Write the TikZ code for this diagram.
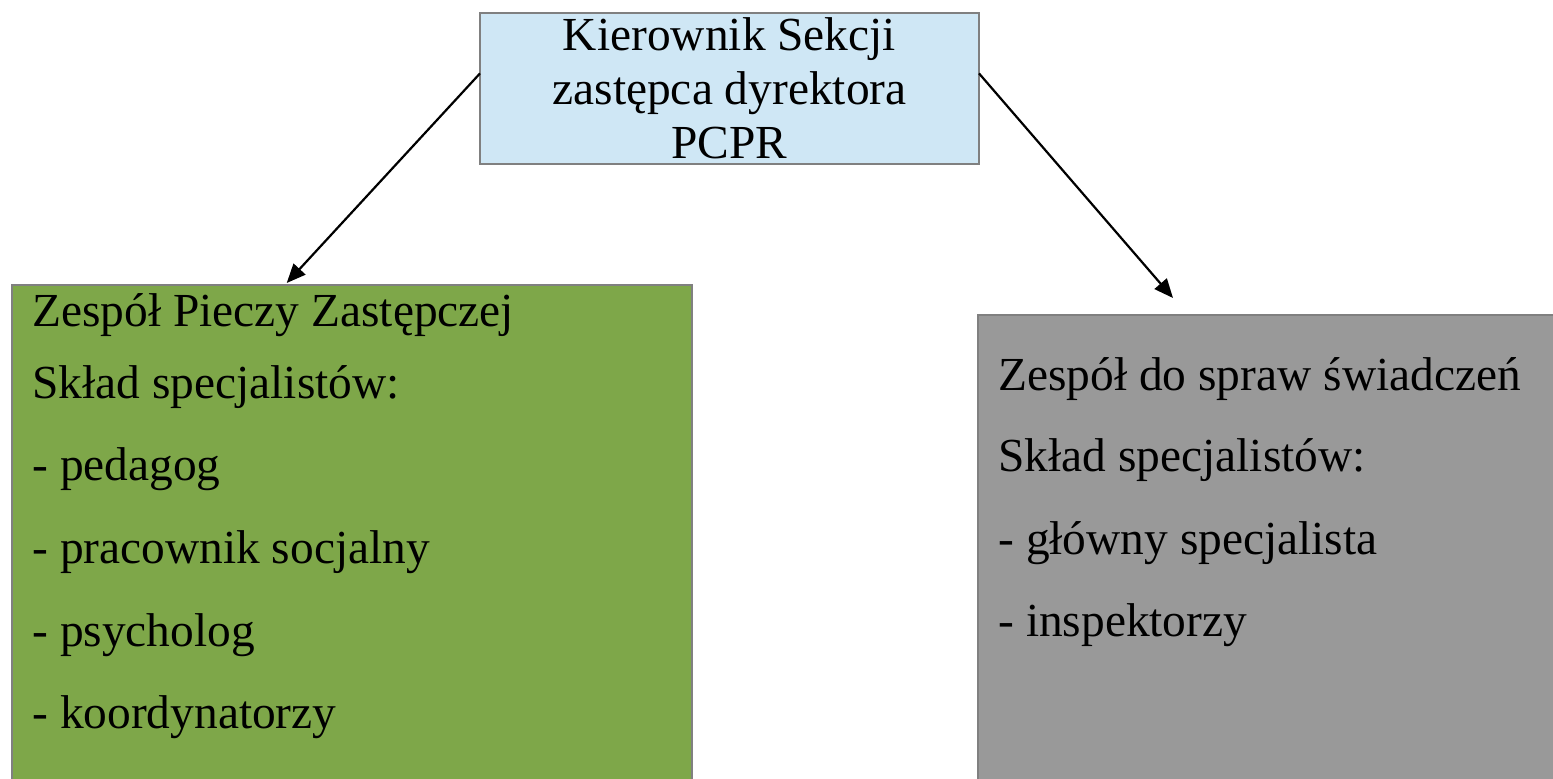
\documentclass[tikz,border=0pt]{standalone}
\usepackage{fontspec}
\setmainfont{Liberation Serif}
\usetikzlibrary{arrows.meta,calc}
\definecolor{topblue}{RGB}{207,231,245}
\definecolor{boxgreen}{RGB}{126,167,73}
\definecolor{boxgray}{RGB}{153,153,153}
\definecolor{edgegray}{RGB}{128,128,128}
\tikzset{
  boxstyle/.style={draw=edgegray, line width=0.8pt, inner sep=0pt, outer sep=0pt},
  txt/.style={anchor=base west, inner sep=0pt, font=\fontsize{23.7pt}{27pt}\selectfont},
  conn/.style={line width=1.1pt, -{Triangle[length=9.5pt,width=8pt]}}
}
\begin{document}
\begin{tikzpicture}[x=0.5pt,y=-0.5pt]
\useasboundingbox (0,0) rectangle (1553,779);
% top box
\node[boxstyle, fill=topblue, minimum width=249.5pt, minimum height=75.5pt,
      align=center, font=\fontsize{23.7pt}{27pt}\selectfont] (top) at (729.5,88.5)
  {Kierownik Sekcji\\zastępca dyrektora\\PCPR};
% green box
\path[boxstyle, fill=boxgreen, draw=edgegray] (12,285) rectangle (692,790);
\coordinate (gnw) at (12,285);
\coordinate (gne) at (692,285);
\node[txt] (g1) at (32,327) {Zespół Pieczy Zastępczej};
\node[txt] (g2) at (32,399) {Skład specjalistów:};
\node[txt] (g3) at (32,481) {- pedagog};
\node[txt] (g4) at (32,564) {- pracownik socjalny};
\node[txt] (g5) at (32,647) {- psycholog};
\node[txt] (g6) at (32,729) {- koordynatorzy};
% gray box
\path[boxstyle, fill=boxgray, draw=edgegray] (978,315) rectangle (1565,790);
\node[txt] (r1) at (998,391) {Zespół do spraw świadczeń};
\node[txt] (r2) at (998,472) {Skład specjalistów:};
\node[txt] (r3) at (998,555) {- główny specjalista};
\node[txt] (r4) at (998,637) {- inspektorzy};
% connectors
\coordinate (ltip) at ($(gnw)!0.404!(gne)$);
\coordinate (rtip) at (1173,298);
\draw[conn] ($(top.north west)!0.4!(top.south west)$) -- ([yshift=1pt]ltip);
\draw[conn] ($(top.north east)!0.4!(top.south east)$) -- (rtip);
\end{tikzpicture}
\end{document}
